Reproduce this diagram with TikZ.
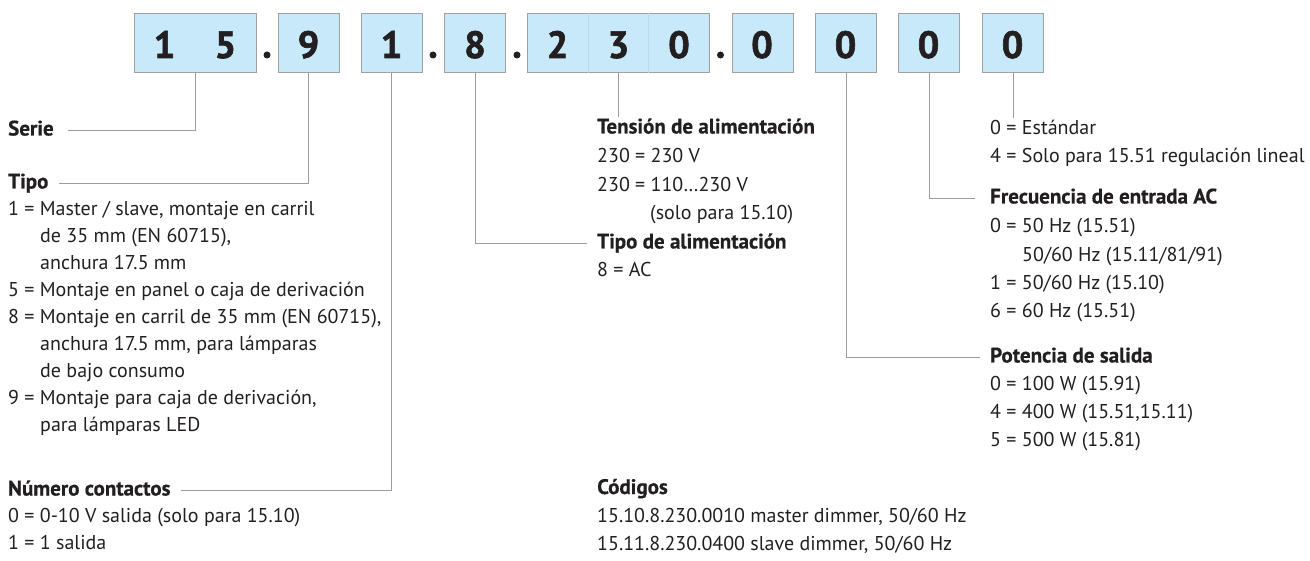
\documentclass[tikz,border=0pt]{standalone}
\usepackage{fontspec}
\setmainfont{PT Sans}
\newfontfamily\digitfont[BoldFeatures={FakeBold=1.6}]{PT Sans}
\newfontfamily\headfont[BoldFeatures={FakeBold=0.5}]{PT Sans}
\definecolor{txt}{HTML}{231F20}
\definecolor{boxfill}{HTML}{C7E9F9}
\definecolor{boxline}{HTML}{A0A0A0}
\definecolor{connc}{HTML}{9C9C9C}
\definecolor{divc}{HTML}{BAD9E6}
\begin{document}
\begin{tikzpicture}[x=1pt,y=-1pt,
  cellbox/.style={draw=boxline, fill=boxfill, line width=0.9pt, minimum height=59pt, inner sep=0pt, anchor=north west},
  digit/.style={anchor=base, inner sep=0pt, text=txt, font=\digitfont\bfseries\fontsize{38}{38}\selectfont},
  dotmark/.style={circle, fill=txt, inner sep=0pt, minimum size=7pt},
  lbl/.style={anchor=base west, inner sep=0pt, text=txt, text height=14pt, text depth=4pt, font=\fontsize{20}{24}\selectfont},
  lblb/.style={lbl, font=\headfont\bfseries\fontsize{21}{24}\selectfont},
  connline/.style={draw=connc, line width=0.9pt},
  divline/.style={draw=divc, line width=0.4pt}]
\useasboundingbox (0,0) rectangle (1310,561);

% boxes
\node[cellbox, minimum width=122pt] (b15) at (134,13) {};
\node[cellbox, minimum width=61pt] (b9) at (278,13) {};
\node[cellbox, minimum width=61pt] (b1) at (361,13) {};
\node[cellbox, minimum width=61pt] (b8) at (444,13) {};
\node[cellbox, minimum width=182pt] (b230) at (527,13) {};
\node[cellbox, minimum width=61pt] (b0a) at (732,13) {};
\node[cellbox, minimum width=61pt] (b0b) at (815,13) {};
\node[cellbox, minimum width=61pt] (b0c) at (898,13) {};
\node[cellbox, minimum width=61pt] (b0d) at (982,13) {};

% faint cell dividers
\draw[divline] ([xshift=61pt]b230.north west) -- ([xshift=61pt]b230.south west);
\draw[divline] ([xshift=121pt]b230.north west) -- ([xshift=121pt]b230.south west);

% digits
\node[digit] (d1) at (164.5,58) {1};
\node[digit] (d2) at (225.5,58) {5};
\node[digit] (d3) at (308.5,58) {9};
\node[digit] (d4) at (391.5,58) {1};
\node[digit] (d5) at (475,58) {8};
\node[digit] (d6) at (557.5,58) {2};
\node[digit] (d7) at (618.5,58) {3};
\node[digit] (d8) at (679,58) {0};
\node[digit] (d9) at (762,58) {0};
\node[digit] (d10) at (845.5,58) {0};
\node[digit] (d11) at (928.5,58) {0};
\node[digit] (d12) at (1012.5,58) {0};

% dots
\node[dotmark] (p1) at (267,55) {};
\node[dotmark] (p2) at (433,55) {};
\node[dotmark] (p3) at (517,55) {};
\node[dotmark] (p4) at (720.5,55) {};

% left column
\node[lblb] (serie) at (8,135.5) {Serie};
\node[lblb] (tipo) at (8,188.5) {Tipo};
\node[lbl] (t1) at (8,215.5) {1 = Master / slave, montaje en carril};
\node[lbl] (t1b) at (40,242.5) {de 35 mm (EN 60715),};
\node[lbl] (t1c) at (40,269.5) {anchura 17.5 mm};
\node[lbl] (t5) at (8,296.5) {5 = Montaje en panel o caja de derivación};
\node[lbl] (t8) at (8,323.5) {8 = Montaje en carril de 35 mm (EN 60715),};
\node[lbl] (t8b) at (40,350.5) {anchura 17.5 mm, para lámparas};
\node[lbl] (t8c) at (40,377.5) {de bajo consumo};
\node[lbl] (t9) at (8,404.5) {9 = Montaje para caja de derivación,};
\node[lbl] (t9b) at (40,431.5) {para lámparas LED};
\node[lblb] (numc) at (8,495.5) {Número contactos};
\node[lbl] (n0) at (8,522.5) {0 = 0-10 V salida (solo para 15.10)};
\node[lbl] (n1) at (8,549.5) {1 = 1 salida};

% middle column
\node[lblb] (tens) at (597,133.5) {Tensión de alimentación};
\node[lbl] (v1) at (597,162.5) {230 = 230 V};
\node[lbl] (v2) at (597,191.5) {230 = 110…230 V};
\node[lbl] (v3) at (650,219.5) {(solo para 15.10)};
\node[lblb] (tali) at (597,248.5) {Tipo de alimentación};
\node[lbl] (a8) at (597,276.5) {8 = AC};
\node[lblb] (cod) at (597,494) {Códigos};
\node[lbl] (c1) at (597,522) {15.10.8.230.0010 master dimmer, 50/60 Hz};
\node[lbl] (c2) at (597,550) {15.11.8.230.0400 slave dimmer, 50/60 Hz};

% right column
\node[lbl] (est) at (990,134.5) {0 = Estándar};
\node[lbl] (solo) at (990,162.5) {4 = Solo para 15.51 regulación lineal};
\node[lblb] (frec) at (990,203.5) {Frecuencia de entrada AC};
\node[lbl] (f0) at (990,232.5) {0 = 50 Hz (15.51)};
\node[lbl] (f0b) at (1022,261.5) {50/60 Hz (15.11/81/91)};
\node[lbl] (f1) at (990,289.5) {1 = 50/60 Hz (15.10)};
\node[lbl] (f6) at (990,317.5) {6 = 60 Hz (15.51)};
\node[lblb] (pot) at (990,362.5) {Potencia de salida};
\node[lbl] (w0) at (990,390.5) {0 = 100 W (15.91)};
\node[lbl] (w4) at (990,418.5) {4 = 400 W (15.51,15.11)};
\node[lbl] (w5) at (990,446.5) {5 = 500 W (15.81)};

% connectors
\draw[connline] (b15.south) |- ([xshift=14pt]serie.east);
\draw[connline] ([xshift=-0.5pt]b9.south) |- ([xshift=10pt]tipo.east);
\draw[connline] ([xshift=-1pt]b1.south) |- ([xshift=10pt]numc.east);
\draw[connline] (b8.south) |- ([xshift=-10pt]tali.west);
\draw[connline] (b230.south) -- ([yshift=2pt]b230.south |- tens.north);
\draw[connline] (b0b.south) |- ([xshift=-10pt]pot.west);
\draw[connline] (b0c.south) |- ([xshift=-15pt]frec.west);
\draw[connline] (b0d.south) -- ([yshift=2pt]b0d.south |- est.north);
\end{tikzpicture}
\end{document}
